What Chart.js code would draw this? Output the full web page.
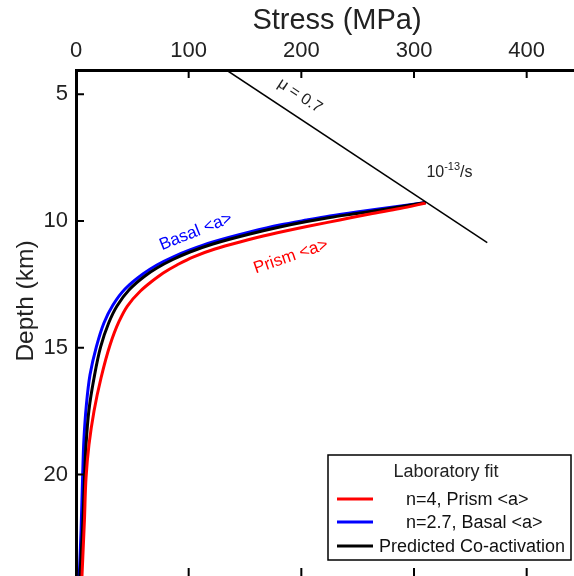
<!DOCTYPE html>
<html><head><meta charset="utf-8">
<style>html,body{margin:0;padding:0;background:#fff}#wrap{width:574px;height:576px}</style>
<script src="https://cdn.jsdelivr.net/npm/chart.js@4.4.1/dist/chart.umd.min.js"></script>
</head><body><div id="wrap"><canvas id="c" width="574" height="576"></canvas></div>
<script>
// ---- data ----
const prismDepth  = [9.287, 9.504, 9.72, 9.957, 10.214, 10.529, 10.825, 11.101, 11.417, 11.732, 12.048, 12.403, 12.758, 13.35, 13.98, 14.888, 16.19, 17.49, 18.83, 20.13, 21.79, 24.0];
const prismStress = [310.4, 287.4, 260.8, 234.1, 204.9, 172.1, 145.5, 123.3, 103.8, 89.6, 77.4, 66.6, 57.2, 45.6, 38.0, 30.2, 22.2, 16.0, 11.5, 8.9, 7.5, 5.3];
const basalDepth  = [9.27, 9.464, 9.642, 9.80, 9.957, 10.154, 10.43, 10.825, 11.14, 11.417, 11.73, 12.087, 12.68, 13.31, 14.02, 14.97, 16.07, 17.26, 18.64, 20.21, 22.19, 24.0];
const basalStress = [310.4, 278.5, 249.2, 225.3, 204.9, 180.9, 154.3, 121.5, 101.1, 86.0, 71.8, 59.4, 43.5, 32.8, 24.8, 18.0, 12.4, 9.2, 7.0, 5.8, 4.5, 2.9];
const coactDepth  = [9.267, 9.504, 9.70, 9.859, 10.017, 10.233, 10.51, 10.904, 11.22, 11.515, 11.85, 12.166, 12.718, 13.35, 14.02, 14.97, 16.19, 17.45, 18.83, 20.21, 22.19, 24.0];
const coactStress = [310.4, 278.5, 249.2, 225.3, 204.9, 180.9, 154.3, 121.5, 101.1, 86.0, 71.8, 61.2, 47.0, 36.4, 29.0, 21.8, 16.0, 11.5, 8.9, 7.5, 5.8, 3.5];
const frictionStress = [133.5, 365];
const frictionDepth  = [4.04, 10.85];
const xTickValues = [0, 100, 200, 300, 400];
const yTickValues = [5, 10, 15, 20];
const seriesLabels = ['n=4, Prism <a>', 'n=2.7, Basal <a>', 'Predicted Co-activation'];
const seriesColors = ['#ff0000', '#0000ff', '#000000'];

const FONT = '"Liberation Sans", Arial, Helvetica, sans-serif';
const pts = (xs, ys) => xs.map((v, i) => ({x: v, y: ys[i]}));

const annot = {
  id: 'annot',
  afterDatasetsDraw(chart) {
    const ctx = chart.ctx, xs = chart.scales.x, ys = chart.scales.y, a = chart.chartArea;
    ctx.save();
    // inward ticks
    ctx.strokeStyle = '#000'; ctx.lineWidth = 2;
    ctx.beginPath();
    xTickValues.forEach(v => { if (v === 0) return; const px = xs.getPixelForValue(v);
      ctx.moveTo(px, a.top); ctx.lineTo(px, a.top + 8);
      ctx.moveTo(px, a.bottom); ctx.lineTo(px, a.bottom - 8); });
    yTickValues.forEach(v => { const py = ys.getPixelForValue(v);
      ctx.moveTo(a.left, py); ctx.lineTo(a.left + 8, py); });
    ctx.stroke();
    // axis titles
    ctx.fillStyle = '#222';
    ctx.font = '29px ' + FONT; ctx.textAlign = 'center'; ctx.textBaseline = 'middle';
    ctx.fillText('Stress (MPa)', 337, 21);
    ctx.save(); ctx.translate(26, 301); ctx.rotate(-Math.PI / 2);
    ctx.font = '24.5px ' + FONT; ctx.fillText('Depth (km)', 0, 0); ctx.restore();
    // friction label
    const p0x = xs.getPixelForValue(frictionStress[0]), p0y = ys.getPixelForValue(frictionDepth[0]);
    const p1x = xs.getPixelForValue(frictionStress[1]), p1y = ys.getPixelForValue(frictionDepth[1]);
    const ang = Math.atan2(p1y - p0y, p1x - p0x);
    const rot = (txt, sx, dy, angle, color, size) => {
      ctx.save(); ctx.translate(xs.getPixelForValue(sx), ys.getPixelForValue(dy)); ctx.rotate(angle);
      ctx.fillStyle = color; ctx.font = size + 'px ' + FONT; ctx.textAlign = 'center'; ctx.textBaseline = 'middle';
      ctx.fillText(txt, 0, 0); ctx.restore();
    };
    rot('\u03bc = 0.7', 198.7, 5.06, ang, '#222', 16);
    rot('Basal <a>', 106.4, 10.42, -21.7 * Math.PI / 180, '#0000ff', 17);
    rot('Prism <a>', 190.7, 11.4, -19 * Math.PI / 180, '#ff0000', 17);
    // strain rate label
    let tx = xs.getPixelForValue(311), ty = ys.getPixelForValue(8.25);
    ctx.fillStyle = '#222'; ctx.textAlign = 'left'; ctx.textBaseline = 'alphabetic';
    ctx.font = '16px ' + FONT; ctx.fillText('10', tx, ty); tx += ctx.measureText('10').width;
    ctx.font = '11px ' + FONT; ctx.fillText('-13', tx, ty - 7); tx += ctx.measureText('-13').width;
    ctx.font = '16px ' + FONT; ctx.fillText('/s', tx, ty);
    // legend
    ctx.fillStyle = '#fff'; ctx.fillRect(328, 455, 243, 105);
    ctx.strokeStyle = '#000'; ctx.lineWidth = 1.5; ctx.strokeRect(328, 455, 243, 105);
    ctx.fillStyle = '#222'; ctx.font = '18px ' + FONT; ctx.textBaseline = 'middle';
    ctx.textAlign = 'center'; ctx.fillText('Laboratory fit', 446, 472);
    ctx.textAlign = 'left';
    const rowsY = [499, 522, 546], textX = [406, 406, 379];
    seriesLabels.forEach((lab, i) => {
      ctx.strokeStyle = seriesColors[i]; ctx.lineWidth = 3;
      ctx.beginPath(); ctx.moveTo(337, rowsY[i]); ctx.lineTo(373, rowsY[i]); ctx.stroke();
      ctx.fillStyle = '#111'; ctx.fillText(lab, textX[i], rowsY[i] + 1);
    });
    ctx.restore();
  }
};

const curve = (label, data, color) => ({ label, data, showLine: true, borderColor: color, borderWidth: 3,
  pointRadius: 0, indexAxis: 'y', cubicInterpolationMode: 'monotone' });

new Chart(document.getElementById('c'), {
  type: 'scatter',
  data: { datasets: [
    { label: 'friction', data: pts(frictionStress, frictionDepth), showLine: true, borderColor: '#000', borderWidth: 1.5, pointRadius: 0 },
    curve(seriesLabels[0], pts(prismStress, prismDepth), seriesColors[0]),
    curve(seriesLabels[2], pts(coactStress, coactDepth), seriesColors[2]),
    curve(seriesLabels[1], pts(basalStress, basalDepth), seriesColors[1])
  ]},
  options: {
    responsive: false, animation: false, devicePixelRatio: 1,
    layout: { padding: 0 },
    plugins: { legend: { display: false }, tooltip: { enabled: false } },
    scales: {
      x: { type: 'linear', position: 'top', min: 0, max: 442,
        afterBuildTicks: s => { s.ticks = xTickValues.map(v => ({value: v})); },
        afterFit: s => { s.height = 70; s.paddingLeft = 0; s.paddingRight = 0; },
        grid: { display: false, drawTicks: false },
        border: { display: true, width: 3, color: '#000' },
        ticks: { color: '#222', font: { size: 22, family: FONT }, padding: 6, maxRotation: 0 } },
      y: { type: 'linear', reverse: true, min: 4.04, max: 24,
        afterBuildTicks: s => { s.ticks = yTickValues.map(v => ({value: v})); },
        afterFit: s => { s.width = 76; s.paddingTop = 0; s.paddingBottom = 0; },
        grid: { display: false, drawTicks: false },
        border: { display: true, width: 3, color: '#000' },
        ticks: { color: '#222', font: { size: 22, family: FONT }, padding: 8 } }
    }
  },
  plugins: [annot]
});
</script></body></html>
